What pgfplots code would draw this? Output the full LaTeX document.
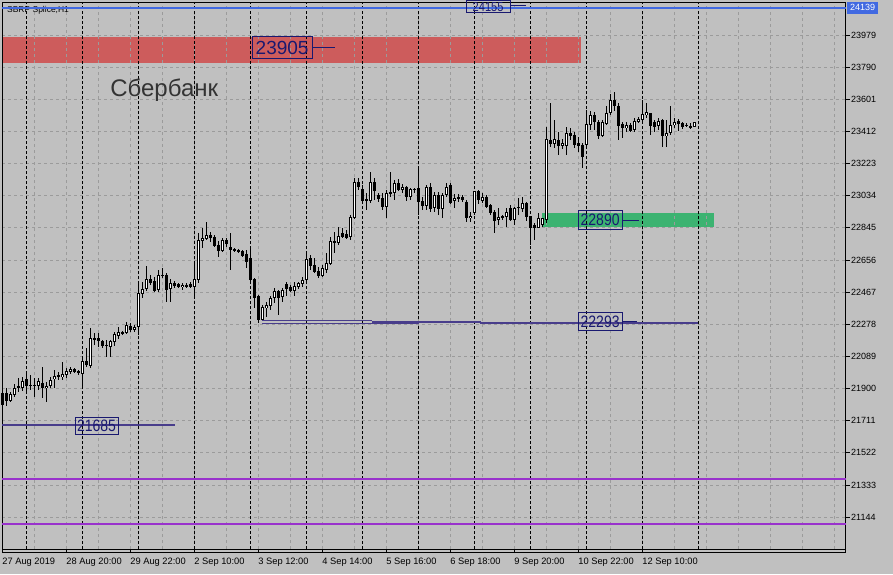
\documentclass[border=0pt]{standalone}
\usepackage{pgfplots}
\pgfplotsset{compat=1.18}
\usepackage{pgfplotstable}
\usepackage{fontspec}
\setmainfont{Liberation Sans}
\newfontfamily\lblfont[FakeStretch=0.85]{Liberation Sans}
\definecolor{bg}{RGB}{192,192,192}
\definecolor{gridgray}{RGB}{155,155,155}
\definecolor{zonered}{RGB}{205,92,92}
\definecolor{zonegreen}{RGB}{60,179,113}
\definecolor{lineblue}{RGB}{65,105,225}
\definecolor{slate}{RGB}{72,61,139}
\definecolor{orchid}{RGB}{153,50,204}
\definecolor{navytxt}{RGB}{25,25,112}
\definecolor{darktxt}{RGB}{51,51,51}
\pagecolor{bg}

\pgfplotstableread{
i o h l c
0 21874 21892 21733 21804
1 21872 21904 21798 21829
2 21829 21882 21823 21868
3 21862 21927 21852 21905
4 21909 21962 21882 21913
5 21905 21970 21886 21945
6 21955 21992 21872 21917
7 21921 21980 21892 21918
8 21918 21962 21852 21921
9 21917 21962 21892 21945
10 21935 22029 21843 21905
11 21902 21941 21823 21917
12 21917 21970 21902 21951
13 21955 22009 21905 21974
14 21980 21999 21951 21970
15 21970 22058 21951 21984
16 21980 22023 21961 22005
17 21999 22029 21984 22015
18 22015 22023 21990 21999
19 22005 22011 21980 21996
20 21984 22088 21905 22062
21 22062 22141 22029 22039
22 22035 22255 22023 22196
23 22196 22225 22156 22193
24 22196 22225 22146 22180
25 22180 22186 22137 22152
26 22156 22186 22088 22152
27 22146 22186 22088 22180
28 22172 22235 22150 22221
29 22209 22264 22192 22231
30 22231 22239 22215 22221
31 22225 22290 22219 22274
32 22270 22284 22235 22245
33 22245 22274 22235 22264
34 22264 22519 22215 22460
35 22456 22529 22431 22486
36 22486 22621 22474 22543
37 22543 22568 22509 22523
38 22534 22558 22466 22474
39 22480 22597 22470 22568
40 22568 22607 22549 22565
41 22568 22578 22407 22480
42 22486 22543 22407 22523
43 22519 22533 22493 22503
44 22513 22519 22490 22496
45 22496 22519 22480 22509
46 22505 22519 22490 22507
47 22513 22525 22490 22499
48 22499 22631 22427 22543
49 22539 22813 22523 22774
50 22770 22843 22725 22784
51 22780 22878 22774 22803
52 22803 22823 22764 22787
53 22790 22803 22731 22740
54 22744 22770 22676 22709
55 22709 22784 22705 22774
56 22774 22784 22734 22750
57 22731 22813 22597 22715
58 22721 22727 22701 22709
59 22713 22723 22695 22711
60 22709 22715 22676 22681
61 22690 22715 22611 22646
62 22666 22721 22534 22539
63 22543 22549 22372 22435
64 22445 22450 22287 22303
65 22303 22392 22299 22378
66 22372 22411 22323 22392
67 22386 22445 22362 22435
68 22431 22490 22402 22474
69 22474 22480 22333 22431
70 22440 22490 22411 22480
71 22513 22529 22445 22486
72 22499 22509 22470 22476
73 22476 22525 22445 22505
74 22499 22529 22486 22519
75 22513 22558 22499 22539
76 22539 22699 22529 22662
77 22666 22686 22597 22623
78 22627 22666 22578 22587
79 22592 22617 22549 22562
80 22562 22627 22558 22607
81 22597 22696 22578 22637
82 22631 22790 22627 22768
83 22770 22823 22699 22758
84 22758 22848 22744 22797
85 22813 22843 22784 22793
86 22807 22833 22778 22787
87 22790 22921 22774 22907
88 22901 23137 22896 23113
89 23113 23137 23068 23087
90 23074 23097 22990 23005
91 23013 23048 22950 23003
92 23003 23172 22990 23113
93 23113 23137 23009 23064
94 23038 23048 22999 23015
95 23022 23048 22950 22966
96 22970 23068 22905 23048
97 23054 23175 23028 23042
98 23048 23127 23009 23107
99 23107 23132 23062 23068
100 23068 23101 23048 23087
101 23087 23093 23003 23025
102 23025 23081 23009 23074
103 23074 23081 23048 23071
104 23078 23205 22921 22999
105 23003 23028 22950 22975
106 22975 23097 22950 23087
107 23087 23107 22940 22956
108 22960 23058 22940 23038
109 23038 23058 22921 22956
110 22956 23048 22901 23038
111 23038 23107 23028 23087
112 23097 23107 22984 22990
113 23005 23042 22960 23022
114 23028 23042 22995 23015
115 23028 23038 22999 23009
116 22999 23009 22878 22901
117 22901 22940 22878 22915
118 22934 23062 22921 23062
119 23062 23068 22984 23009
120 23005 23048 22990 23028
121 23028 23038 22960 22970
122 22980 22984 22921 22934
123 22940 22950 22813 22886
124 22891 22960 22862 22911
125 22911 22921 22891 22913
126 22911 22964 22852 22940
127 22960 22980 22886 22891
128 22891 22970 22862 22964
129 22970 23019 22921 22960
130 22954 23025 22940 22990
131 22990 22999 22887 22911
132 22915 22915 22744 22843
133 22862 22872 22774 22843
134 22846 22931 22843 22901
135 22862 22905 22852 22903
136 22891 23440 22876 23366
137 23362 23581 23319 23338
138 23338 23479 23313 23366
139 23362 23411 23274 23327
140 23327 23366 23307 23346
141 23327 23436 23274 23405
142 23405 23431 23362 23385
143 23391 23411 23313 23332
144 23346 23381 23293 23327
145 23332 23342 23195 23264
146 23332 23538 23327 23456
147 23450 23534 23421 23509
148 23509 23528 23421 23466
149 23466 23479 23366 23385
150 23385 23479 23381 23466
151 23456 23562 23450 23522
152 23522 23632 23509 23597
153 23597 23646 23534 23563
154 23563 23578 23362 23444
155 23456 23469 23372 23431
156 23431 23469 23411 23450
157 23450 23460 23407 23416
158 23421 23489 23411 23475
159 23469 23499 23460 23485
160 23479 23597 23469 23515
161 23509 23581 23489 23525
162 23519 23522 23391 23444
163 23469 23479 23411 23440
164 23444 23489 23421 23475
165 23479 23484 23319 23387
166 23387 23479 23319 23401
167 23405 23562 23391 23450
168 23450 23489 23431 23466
169 23474 23485 23416 23456
170 23460 23469 23425 23440
171 23450 23463 23440 23448
172 23440 23460 23425 23442
173 23440 23469 23436 23466
}\candles
% derived columns for drawing (from the OHLC data)
\pgfplotstablecreatecol[expr={(\thisrow{h}+\thisrow{l})/2}]{wm}{\candles}
\pgfplotstablecreatecol[expr={(\thisrow{h}-\thisrow{l})/2}]{we}{\candles}
\pgfplotstablecreatecol[expr={(\thisrow{o}+\thisrow{c})/2}]{bm}{\candles}
\pgfplotstablecreatecol[expr={max(abs(\thisrow{c}-\thisrow{o})/2,2.94)}]{be}{\candles}
\pgfplotstablecreatecol[expr={max((\thisrow{c}-\thisrow{o})/2-5.5,0)}]{ie}{\candles}

\begin{document}
\begin{tikzpicture}
\begin{axis}[
  set layers, clip=false,
  scale only axis, width=843.5pt, height=546pt,
  at={(0,0)}, anchor=south west,
  xmin=-0.125, xmax=210.75, ymin=20956.9, ymax=24167.4,
  axis line style={black, line width=1pt},
  xtick={0,16,32,48,64,80,96,112,128,144,160},
  xticklabels={27 Aug 2019,28 Aug 20:00,29 Aug 22:00,2 Sep 10:00,3 Sep 12:00,4 Sep 14:00,5 Sep 16:00,6 Sep 18:00,9 Sep 20:00,10 Sep 22:00,12 Sep 10:00},
  minor xtick={8,16,...,208},
  ytick={21144,21333,21522,21711,21900,22089,22278,22467,22656,22845,23034,23223,23412,23601,23790,23979},
  xmajorgrids=false, xminorgrids=true, ymajorgrids=true,
  major grid style={gridgray, dash pattern=on 3pt off 3pt, line width=1pt},
  minor grid style={gridgray, dash pattern=on 3pt off 3pt, line width=1pt},
  extra x ticks={6,20,34,48,62,76,90,104,118,132,146,160,174},
  extra x tick labels={},
  extra x tick style={xmajorgrids=true, major tick length=0pt,
     major grid style={black, dash pattern=on 3pt off 2pt, line width=1pt}},
  xtick pos=left, ytick pos=right, yticklabel pos=right,
  tick align=outside, major tick length=4pt, minor tick length=0pt,
  tick style={black, line width=1pt},
  /pgf/number format/assume math mode=true,
  /pgf/number format/1000 sep={},
  scaled y ticks=false,
  yticklabel style={anchor=west, inner sep=0pt, xshift=1.5pt, font=\fontsize{9}{10}\selectfont},
  xticklabel style={anchor=north west, inner sep=0pt, yshift=-5pt, xshift=-0.3pt, font=\fontsize{9.3}{10}\selectfont},
]
% zones
\addplot[on layer=axis background, fill=zonered, draw=none] coordinates {(-0.125,23815) (144.6,23815) (144.6,23967) (-0.125,23967)} --cycle;
\addplot[on layer=axis background, fill=zonegreen, draw=none] coordinates {(134.9,22852) (177.9,22852) (177.9,22934) (134.9,22934)} --cycle;

% candles: wicks, bodies, white inner
\addplot[draw=none, mark=none, error bars/.cd, y dir=both, y explicit, error mark=none,
   error bar style={draw=black, line width=1pt}]
   table[x=i, y=wm, y error=we] {\candles};
\addplot[draw=none, mark=none, error bars/.cd, y dir=both, y explicit, error mark=none,
   error bar style={draw=black, line width=3.2pt}]
   table[x=i, y=bm, y error=be] {\candles};
\addplot[draw=none, mark=none, error bars/.cd, y dir=both, y explicit, error mark=none,
   error bar style={draw=white, line width=1.5pt}]
   table[x=i, y=bm, y error=ie] {\candles};

% horizontal lines
\addplot[orchid, line width=2pt] coordinates {(-0.125,21368) (210.75,21368)};
\addplot[orchid, line width=2pt] coordinates {(-0.125,21106) (210.75,21106)};
\addplot[slate, line width=2pt] coordinates {(-0.125,21685) (43.1,21685)};
\addplot[slate, line width=1.6pt] coordinates {(64.9,22301) (92.3,22301)};
\addplot[slate, line width=1.6pt] coordinates {(64.9,22282) (104.0,22282)};
\addplot[slate, line width=1.6pt] coordinates {(92.3,22293) (119.6,22293)};
\addplot[slate, line width=1.6pt] coordinates {(119.4,22287) (173.9,22287)};
\addplot[navytxt, line width=1pt] coordinates {(77.4,23905) (83.1,23905)};
\addplot[navytxt, line width=1pt] coordinates {(126.9,24152) (130.9,24152)};
\addplot[navytxt, line width=1pt] coordinates {(154.9,22890) (159.1,22890)};
\addplot[navytxt, line width=1pt] coordinates {(154.9,22293) (158.6,22293)};

% texts
\node[anchor=base west, inner sep=0pt, font=\fontsize{8.5}{9}\selectfont] at (axis cs:1.1,24110) {SBRP Splice,H1};
\addplot[lineblue, line width=2pt] coordinates {(-0.125,24139) (210.75,24139)};
\node[anchor=base west, inner sep=0pt, text=darktxt, font=\fontsize{24}{25}\selectfont] at (axis cs:26.9,23616) {Сбербанк};
\node[draw=navytxt, line width=1pt, text=navytxt, inner sep=0pt, minimum width=60pt, minimum height=22pt, font=\fontsize{19}{20}\selectfont] at (axis cs:69.9,23905) {23905};
\node[draw=navytxt, line width=1pt, text=navytxt, inner sep=0pt, minimum width=44pt, minimum height=12pt, font=\lblfont\fontsize{13}{14}\selectfont] at (axis cs:121.4,24146) {24155};
\node[draw=navytxt, line width=1pt, text=navytxt, inner sep=0pt, minimum width=44pt, minimum height=19pt, font=\lblfont\fontsize{16.5}{17}\selectfont] at (axis cs:149.4,22892) {22890};
\node[draw=navytxt, line width=1pt, text=navytxt, inner sep=0pt, minimum width=44pt, minimum height=18pt, font=\lblfont\fontsize{16.5}{17}\selectfont] at (axis cs:149.4,22293) {22293};
\node[draw=navytxt, line width=1pt, text=navytxt, inner sep=0pt, minimum width=43pt, minimum height=17pt, font=\lblfont\fontsize{16.5}{17}\selectfont] at (axis cs:23.5,21683) {21685};
\node[fill=lineblue, text=white, inner sep=0pt, minimum width=31pt, minimum height=12pt, font=\fontsize{9}{10}\selectfont] at (axis cs:215,24139) {24139};
\end{axis}
\draw[black, line width=1pt] (0,-3.7pt) -- (843.5pt,-3.7pt);
\draw[black, line width=1pt] (843.5pt,0) -- (843.5pt,-3.7pt);
\pgfresetboundingbox
\path (-2pt,-25pt) rectangle (891pt,549pt);
\end{tikzpicture}
\end{document}
